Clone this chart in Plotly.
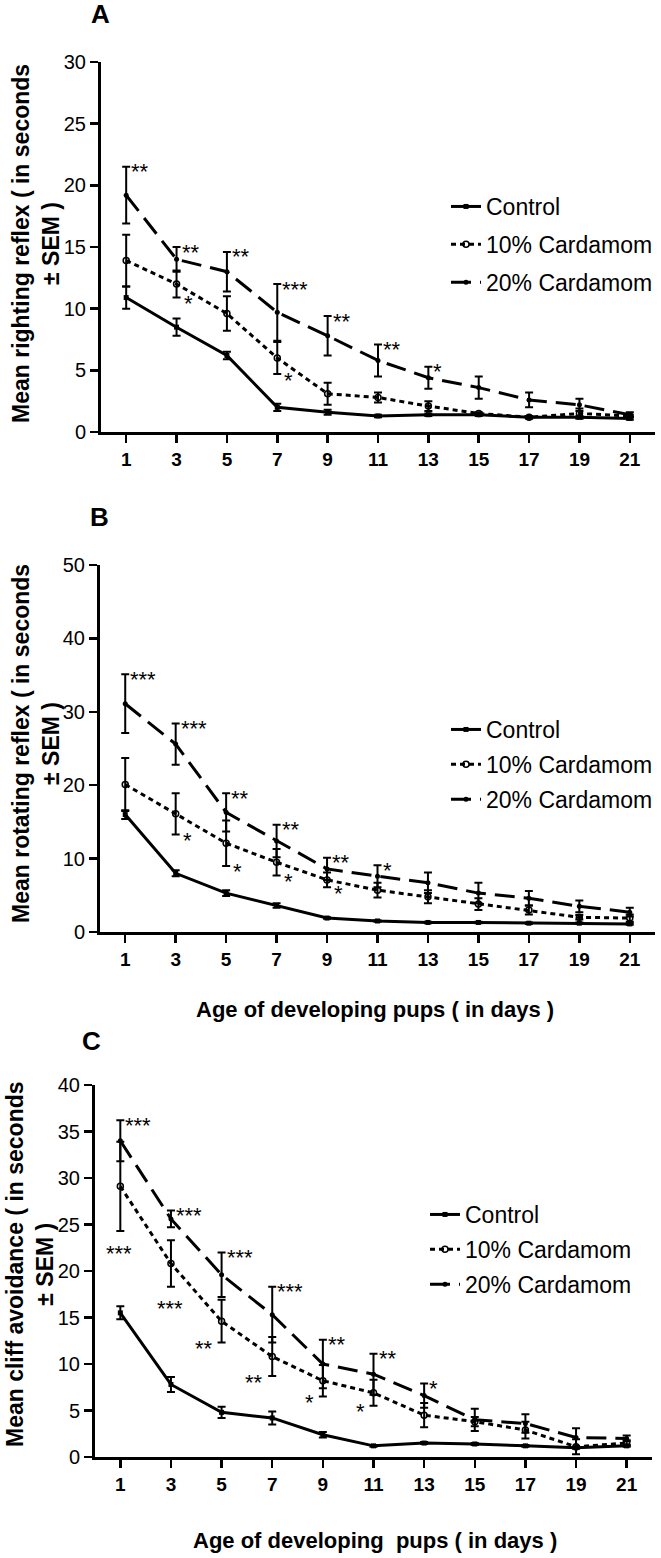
import plotly.graph_objects as go

# ---------------- data ----------------
days = [1, 3, 5, 7, 9, 11, 13, 15, 17, 19, 21]
series_names = ["Control", "10% Cardamom", "20% Cardamom"]

# Panel A: righting reflex
A_ctrl = [10.9, 8.5, 6.2, 2.0, 1.6, 1.3, 1.4, 1.4, 1.2, 1.2, 1.1]
A_ctrl_sem = [0.9, 0.7, 0.3, 0.3, 0.2, 0.1, 0.1, 0.1, 0.1, 0.1, 0.1]
A_10 = [13.9, 12.0, 9.6, 6.0, 3.1, 2.8, 2.1, 1.5, 1.2, 1.5, 1.3]
A_10_sem = [2.1, 1.1, 1.4, 1.3, 0.9, 0.4, 0.4, 0.1, 0.1, 0.4, 0.1]
A_20 = [19.2, 14.0, 13.0, 9.7, 7.8, 5.8, 4.4, 3.6, 2.6, 2.2, 1.4]
A_20_sem = [2.3, 1.0, 1.6, 2.3, 1.6, 1.3, 0.9, 0.9, 0.6, 0.5, 0.2]
A_10_sig = ["", "*", "", "*", "", "", "", "", "", "", ""]
A_20_sig = ["**", "**", "**", "***", "**", "**", "*", "", "", "", ""]

# Panel B: rotating reflex
B_ctrl = [16.0, 8.0, 5.3, 3.6, 1.9, 1.5, 1.3, 1.3, 1.2, 1.2, 1.1]
B_ctrl_sem = [0.6, 0.4, 0.4, 0.3, 0.1, 0.1, 0.1, 0.1, 0.1, 0.1, 0.1]
B_10 = [20.1, 16.1, 12.1, 9.5, 7.1, 5.7, 4.8, 3.8, 3.0, 2.0, 1.9]
B_10_sem = [3.6, 2.8, 3.1, 1.8, 1.0, 1.0, 0.9, 0.8, 0.6, 0.3, 0.5]
B_20 = [31.1, 25.6, 16.3, 12.4, 8.6, 7.6, 6.7, 5.3, 4.6, 3.5, 2.7]
B_20_sem = [4.0, 2.8, 2.6, 2.2, 1.5, 1.5, 1.4, 1.4, 1.0, 0.8, 0.6]
B_10_sig = ["", "*", "*", "*", "*", "", "", "", "", "", ""]
B_20_sig = ["***", "***", "**", "**", "**", "*", "", "", "", "", ""]

# Panel C: cliff avoidance
C_ctrl = [15.5, 7.8, 4.8, 4.2, 2.4, 1.2, 1.5, 1.4, 1.2, 1.0, 1.2]
C_ctrl_sem = [0.7, 0.8, 0.6, 0.7, 0.3, 0.1, 0.1, 0.1, 0.1, 0.1, 0.1]
C_10 = [29.1, 20.8, 14.6, 10.8, 8.2, 6.9, 4.5, 3.8, 2.9, 1.1, 1.5]
C_10_sem = [4.8, 2.5, 2.3, 2.1, 1.7, 1.4, 1.3, 0.5, 0.9, 0.8, 0.3]
C_20 = [34.0, 25.6, 19.6, 15.3, 10.0, 8.9, 6.6, 4.0, 3.6, 2.1, 2.0]
C_20_sem = [2.2, 0.9, 2.4, 3.0, 2.6, 2.2, 1.3, 1.2, 1.0, 1.0, 0.3]
C_10_sig = ["***", "***", "**", "**", "*", "*", "", "", "", "", ""]
C_20_sig = ["***", "***", "***", "***", "**", "**", "*", "", "", "", ""]

x_ticks = days
A_yticks = [0, 5, 10, 15, 20, 25, 30]
B_yticks = [0, 10, 20, 30, 40, 50]
C_yticks = [0, 5, 10, 15, 20, 25, 30, 35, 40]

# ---------------- figure ----------------
W, H = 661, 1558
FONT = "Liberation Sans, Arial, Helvetica, sans-serif"

def px_x(p):
    return p / W

def px_y(p):
    return 1 - p / H

panels = [
    dict(key="A", xa="x", ya="y", xdom=(101, 655), ydom=(62, 432), yr=30, yt=A_yticks,
         data=[(A_ctrl, A_ctrl_sem), (A_10, A_10_sem), (A_20, A_20_sem)],
         sig10=A_10_sig, sig20=A_20_sig, legend="legend",
         ytitle="Mean righting reflex ( in seconds<br>± SEM )", ytc=(36, 244),
         lab=(100, 14), leg=(446, 185), gap=5, xtitle=None),
    dict(key="B", xa="x2", ya="y2", xdom=(100, 655), ydom=(565, 932), yr=50, yt=B_yticks,
         data=[(B_ctrl, B_ctrl_sem), (B_10, B_10_sem), (B_20, B_20_sem)],
         sig10=B_10_sig, sig20=B_20_sig, legend="legend2",
         ytitle="Mean rotating reflex ( in seconds<br>± SEM )", ytc=(36, 744),
         lab=(99, 517), leg=(446, 708), gap=2,
         xtitle=("Age of developing pups ( in days )", 375, 1009)),
    dict(key="C", xa="x3", ya="y3", xdom=(95, 652), ydom=(1085, 1457), yr=40, yt=C_yticks,
         data=[(C_ctrl, C_ctrl_sem), (C_10, C_10_sem), (C_20, C_20_sem)],
         sig10=C_10_sig, sig20=C_20_sig, legend="legend3",
         ytitle="Mean cliff avoidance ( in seconds<br>± SEM )", ytc=(30, 1264),
         lab=(91, 1041), leg=(425, 1193), gap=2,
         xtitle=("Age of developing  pups ( in days )", 375, 1540)),
]

styles = [
    dict(dash="solid", marker=dict(symbol="square", size=5, color="black")),
    dict(dash="5px,4px", marker=dict(symbol="circle-open", size=6, color="black",
                                      line=dict(width=1.5, color="black"))),
    dict(dash="20px,9px", marker=dict(symbol="circle", size=5, color="black")),
]

fig = go.Figure()
annotations = []
layout = {}

for pi, p in enumerate(panels):
    suffix = "" if pi == 0 else str(pi + 1)
    for si, (vals, sem) in enumerate(p["data"]):
        st = styles[si]
        fig.add_trace(go.Scatter(
            x=days, y=vals, mode="lines+markers", name=series_names[si],
            xaxis=p["xa"], yaxis=p["ya"],
            line=dict(color="black", width=3, dash=st["dash"]),
            marker=st["marker"],
            error_y=dict(type="data", array=sem, visible=True, color="black",
                         thickness=2, width=4),
            legend=p["legend"], legendgroup=p["key"] + str(si),
            showlegend=True,
        ))
    xd = [px_x(p["xdom"][0]), px_x(p["xdom"][1])]
    yd = [px_y(p["ydom"][1]), px_y(p["ydom"][0])]
    layout["xaxis" + suffix] = dict(
        domain=xd, anchor=p["ya"], range=[0, 22], tickmode="array", tickvals=x_ticks,
        showline=True, linecolor="black", linewidth=3, ticks="outside", ticklen=8,
        tickwidth=2.5, tickcolor="black", showgrid=False, zeroline=False, automargin=False,
        tickfont=dict(family=FONT, size=19, color="black", weight="bold"),
    )
    layout["yaxis" + suffix] = dict(
        domain=yd, anchor=p["xa"], range=[0, p["yr"]], tickmode="array", tickvals=p["yt"],
        showline=True, linecolor="black", linewidth=3, ticks="outside", ticklen=8,
        tickwidth=2.5, tickcolor="black", showgrid=False, zeroline=False, automargin=False,
        tickfont=dict(family=FONT, size=20, color="black"),
    )
    layout[p["legend"]] = dict(
        x=px_x(p["leg"][0]), y=px_y(p["leg"][1]), xanchor="left", yanchor="top",
        bgcolor="rgba(255,255,255,0)", borderwidth=0, tracegroupgap=p["gap"],
        font=dict(family=FONT, size=23, color="black"), traceorder="grouped",
    )
    # panel letter
    annotations.append(dict(xref="paper", yref="paper", x=px_x(p["lab"][0]), y=px_y(p["lab"][1]),
                            text="<b>" + p["key"] + "</b>", showarrow=False,
                            font=dict(family=FONT, size=26, color="black"),
                            xanchor="center", yanchor="middle"))
    # y title
    annotations.append(dict(xref="paper", yref="paper", x=px_x(p["ytc"][0]), y=px_y(p["ytc"][1]),
                            text="<b>" + p["ytitle"] + "</b>", showarrow=False, textangle=-90,
                            font=dict(family=FONT, size=23, color="black"),
                            xanchor="center", yanchor="middle"))
    if p["xtitle"]:
        t, cx, cy = p["xtitle"]
        annotations.append(dict(xref="paper", yref="paper", x=px_x(cx), y=px_y(cy),
                                text="<b>" + t.replace("  ", " &nbsp;") + "</b>", showarrow=False,
                                font=dict(family=FONT, size=22, color="black"),
                                xanchor="center", yanchor="middle"))
    # significance marks
    v10, s10 = p["data"][1]
    v20, s20 = p["data"][2]
    for i, d in enumerate(days):
        if p["sig20"][i]:
            annotations.append(dict(xref=p["xa"], yref=p["ya"], x=d, y=v20[i] + s20[i],
                                    text=p["sig20"][i], showarrow=False, xanchor="left",
                                    yanchor="middle", xshift=3, yshift=-5,
                                    font=dict(family=FONT, size=22, color="black")))
        if p["sig10"][i]:
            lo = v10[i] - s10[i]
            if p["key"] != "C":
                annotations.append(dict(xref=p["xa"], yref=p["ya"], x=d, y=lo,
                                        text=p["sig10"][i], showarrow=False, xanchor="left",
                                        yanchor="middle", xshift=5, yshift=-6,
                                        font=dict(family=FONT, size=22, color="black")))
            elif d <= 3:
                annotations.append(dict(xref=p["xa"], yref=p["ya"], x=d, y=lo,
                                        text=p["sig10"][i], showarrow=False, xanchor="center",
                                        yanchor="middle", xshift=-1, yshift=-22,
                                        font=dict(family=FONT, size=22, color="black")))
            else:
                annotations.append(dict(xref=p["xa"], yref=p["ya"], x=d, y=lo,
                                        text=p["sig10"][i], showarrow=False, xanchor="right",
                                        yanchor="middle", xshift=-7, yshift=-6,
                                        font=dict(family=FONT, size=22, color="black")))

fig.update_layout(
    width=W, height=H, margin=dict(l=0, r=0, t=0, b=0, autoexpand=False),
    paper_bgcolor="white", plot_bgcolor="white",
    font=dict(family=FONT, color="black"),
    annotations=annotations,
    hovermode=False,
    **layout,
)

fig.write_html("out.html", config={"displayModeBar": False, "staticPlot": True},
               post_script="document.body.style.margin='0';document.body.style.overflow='hidden';")
